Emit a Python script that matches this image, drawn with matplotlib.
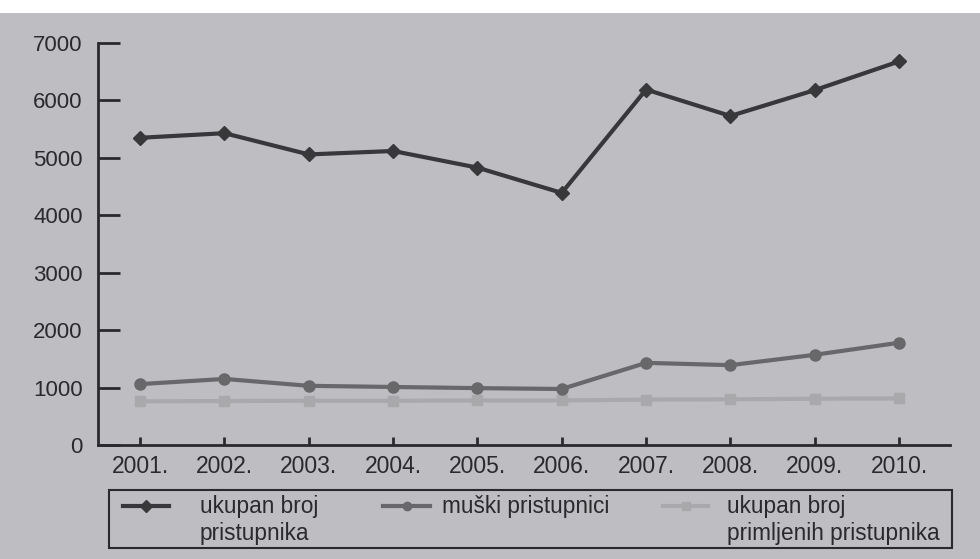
import matplotlib
matplotlib.use("Agg")
import matplotlib.pyplot as plt
from matplotlib.patches import Rectangle
from matplotlib.lines import Line2D

years = [2001, 2002, 2003, 2004, 2005, 2006, 2007, 2008, 2009, 2010]
year_labels = ["2001.", "2002.", "2003.", "2004.", "2005.", "2006.", "2007.", "2008.", "2009.", "2010."]
ukupan = [5350, 5430, 5060, 5120, 4830, 4390, 6190, 5730, 6180, 6680]
muski = [1060, 1150, 1030, 1010, 990, 975, 1430, 1390, 1570, 1780]
primljeni = [760, 765, 770, 770, 775, 775, 790, 795, 805, 810]
yticks = [0, 1000, 2000, 3000, 4000, 5000, 6000, 7000]
series_labels = ["ukupan broj\npristupnika", "muški pristupnici", "ukupan broj\nprimljenih pristupnika"]

plt.rcParams['font.family'] = ['Liberation Sans', 'DejaVu Sans']

W, H = 980, 559
bg = '#bebdc2'
ink = '#2a2a2c'
colors = ['#38383a', '#68686a', '#a9a9ab']
markers = ['D', 'o', 's']

fig = plt.figure(figsize=(9.8, 5.59), dpi=100, facecolor='white')
fig.patches.append(Rectangle((0, 0), 1, 1 - 13/H, transform=fig.transFigure,
                             facecolor=bg, edgecolor='none', zorder=-10))
ax = fig.add_axes([0.1, 0.204, 0.869, 0.719])
ax.set_facecolor('none')

ax.plot(years, primljeni, color=colors[2], lw=3, marker=markers[2], ms=7, zorder=2)
ax.plot(years, muski, color=colors[1], lw=3, marker=markers[1], ms=8, zorder=3)
ax.plot(years, ukupan, color=colors[0], lw=3, marker=markers[0], ms=7, zorder=4)

ax.set_xlim(2000.5, 2010.6)
ax.set_ylim(0, 7000)
ax.set_yticks(yticks)
ax.set_xticks(years)
ax.set_xticklabels(year_labels)
for s in ['top', 'right']:
    ax.spines[s].set_visible(False)
for s in ['left', 'bottom']:
    ax.spines[s].set_color(ink)
    ax.spines[s].set_linewidth(2)
ax.tick_params(axis='y', direction='in', length=16, width=2, color=ink,
               labelsize=16, labelcolor=ink, pad=11)
ax.tick_params(axis='x', direction='in', length=6, width=2, color=ink,
               labelsize=16.5, labelcolor=ink, pad=7)

# legend frame and entries
fig.patches.append(Rectangle((109/W, 1 - 548/H), (952-109)/W, (548-490)/H,
                             transform=fig.transFigure, facecolor='none',
                             edgecolor=ink, linewidth=1.5))
handle_x = [(123, 169), (383, 430), (663, 708)]
text_x = [200, 442, 727]
yline = 1 - 506/H
for i in range(3):
    x0, x1 = handle_x[i]
    fig.add_artist(Line2D([x0/W, x1/W], [yline, yline], transform=fig.transFigure,
                          color=colors[i], lw=3))
    fig.add_artist(Line2D([(x0+x1)/2/W], [yline], transform=fig.transFigure,
                          color=colors[i], marker=markers[i], ms=6, lw=0))
    fig.text(text_x[i]/W, 1 - 495/H, series_labels[i], fontsize=16.3, color=ink,
             ha='left', va='top', linespacing=1.2)

fig.savefig('out.png', dpi=100, facecolor=fig.get_facecolor())
